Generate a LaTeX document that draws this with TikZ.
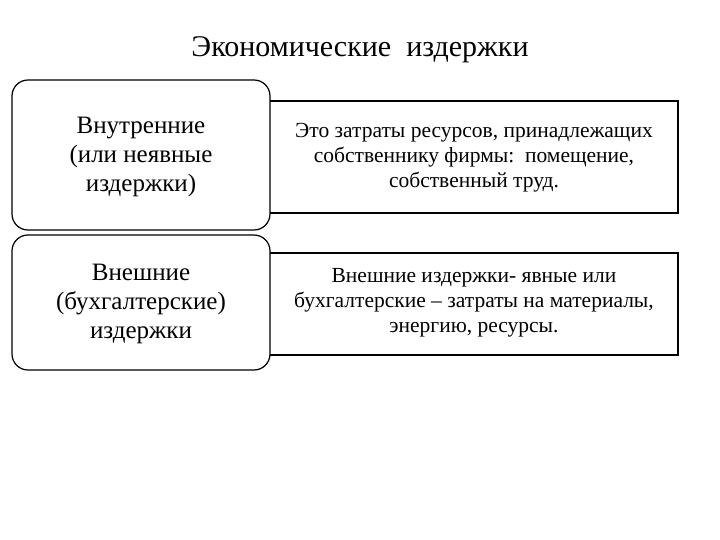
\documentclass[tikz,border=0pt]{standalone}
\usepackage{fontspec}
\setmainfont{Liberation Serif}
\begin{document}
\begin{tikzpicture}[x=1pt,y=-1pt,
  lbox/.style={draw,line width=1.2pt,rounded corners=16pt,fill=white},
  rbox/.style={draw,line width=1.2pt,fill=white},
  ltxt/.style={align=center,font=\fontsize{25}{29}\selectfont},
  rtxt/.style={align=center,font=\fontsize{21.5}{25}\selectfont}]
\useasboundingbox (0,0) rectangle (720,540);
\node[font=\fontsize{30}{34}\selectfont] (title) at (360,50) {Экономические\ \ издержки};
\draw[rbox] (255,101) rectangle (678,213);
\draw[rbox] (255,253) rectangle (678,355);
\draw[lbox] (12,80) rectangle (270,230);
\draw[lbox] (12,235) rectangle (270,370);
\node[ltxt] (l1) at (141,157) {Внутренние\\(или неявные\\издержки)};
\node[ltxt] (l2) at (141,304) {Внешние\\(бухгалтерские)\\издержки};
\node[rtxt] (r1) at (474,158) {Это затраты ресурсов, принадлежащих\\собственнику фирмы:\ \ помещение,\\собственный труд.};
\node[rtxt] (r2) at (474,303) {Внешние издержки- явные или\\бухгалтерские – затраты на материалы,\\энергию, ресурсы.};
\end{tikzpicture}
\end{document}
